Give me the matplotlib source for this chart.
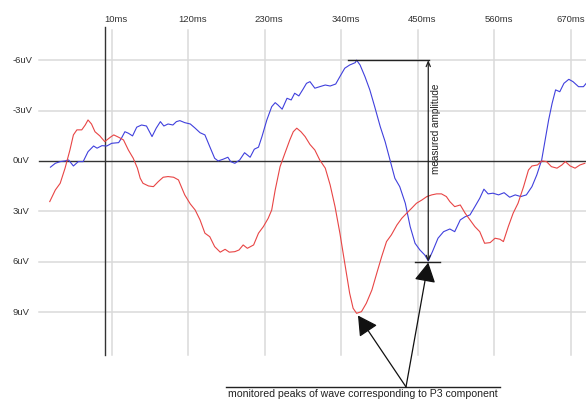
import matplotlib
matplotlib.use("Agg")
import matplotlib.pyplot as plt
from matplotlib.patches import FancyArrowPatch

plt.rcParams['font.family'] = ['Liberation Sans', 'DejaVu Sans']

# ---- data (time in ms, amplitude in uV; negative up) ----
x_ticks = [10, 120, 230, 340, 450, 560, 670]
x_tick_labels = ["10ms", "120ms", "230ms", "340ms", "450ms", "560ms", "670ms"]
y_ticks = [-6, -3, 0, 3, 6, 9]
y_tick_labels = ["-6uV", "-3uV", "0uV", "3uV", "6uV", "9uV"]

blue_t = [-78, -71, -64, -57, -52, -45, -38, -31, -24, -16, -11, -4, 3, 10, 20, 24, 29, 34, 40,
          46, 53, 60, 68, 74, 80, 85, 91, 98, 103, 108, 115, 123, 130, 137, 144, 151, 158, 163,
          170, 177, 181, 187, 194, 201, 209, 215, 221, 226, 233, 240, 245, 249, 255, 262, 268,
          273, 279, 285, 290, 295, 302, 309, 317, 324, 332, 338, 345, 352, 360, 362, 367, 374,
          381, 388, 396, 403, 410, 417, 424, 432, 439, 446, 453, 460, 465, 471, 479, 487, 496,
          503, 511, 518, 525, 532, 539, 545, 551, 558, 566, 574, 582, 590, 598, 606, 614, 621,
          628, 633, 638, 643, 648, 654, 660, 667, 673, 681, 688, 692]
blue_v = [0.37, 0.14, 0.04, 0.0, -0.06, 0.30, 0.04, 0.04, -0.55, -0.89, -0.76, -0.91, -0.89,
          -1.05, -1.09, -1.35, -1.74, -1.65, -1.49, -2.01, -2.14, -2.08, -1.45, -1.95, -2.34,
          -2.08, -2.20, -2.14, -2.34, -2.40, -2.28, -2.20, -1.95, -1.68, -1.55, -0.85, -0.16,
          0.0, -0.10, -0.22, 0.04, 0.14, -0.06, -0.49, -0.22, -0.70, -0.82, -1.45, -2.44, -3.23,
          -3.47, -3.33, -3.08, -3.73, -3.63, -4.03, -3.87, -4.27, -4.62, -4.72, -4.33, -4.42,
          -4.52, -4.46, -4.58, -5.02, -5.52, -5.71, -5.85, -6.0, -5.71, -5.02, -4.23, -3.23,
          -2.04, -1.15, -0.06, 1.03, 1.53, 2.52, 3.91, 4.90, 5.30, 5.60, 5.95, 5.40, 4.60, 4.21,
          4.05, 4.21, 3.51, 3.32, 3.21, 2.72, 2.22, 1.68, 1.96, 1.92, 2.02, 1.89, 2.16, 2.02,
          2.12, 2.02, 1.53, 0.83, -0.06, -1.25, -2.44, -3.43, -4.23, -4.12, -4.62, -4.86, -4.72,
          -4.42, -4.42, -4.62]

red_t = [-79, -71, -64, -57, -50, -45, -40, -33, -28, -24, -19, -14, -7, 0, 8, 13, 20, 27, 34,
         41, 47, 51, 55, 63, 70, 77, 84, 91, 99, 106, 108, 115, 123, 130, 137, 144, 151, 158,
         166, 173, 179, 187, 193, 199, 205, 214, 221, 228, 235, 240, 245, 252, 259, 266, 271,
         276, 282, 288, 295, 302, 309, 317, 324, 331, 338, 345, 352, 357, 362, 369, 376, 384,
         391, 398, 405, 412, 420, 427, 434, 441, 448, 456, 463, 470, 477, 484, 491, 496, 503,
         511, 518, 525, 532, 539, 546, 554, 561, 568, 573, 580, 587, 594, 602, 609, 614, 622,
         628, 635, 642, 650, 657, 662, 669, 676, 683, 690]
red_v = [2.42, 1.73, 1.33, 0.43, -0.65, -1.55, -1.85, -1.85, -2.14, -2.44, -2.20, -1.74, -1.49,
         -1.15, -1.41, -1.55, -1.41, -1.25, -0.65, -0.16, 0.43, 1.03, 1.33, 1.49, 1.53, 1.23,
         0.97, 0.93, 0.97, 1.13, 1.33, 2.02, 2.56, 2.92, 3.51, 4.30, 4.51, 5.10, 5.43, 5.26,
         5.43, 5.40, 5.30, 5.00, 5.20, 5.00, 4.30, 3.91, 3.41, 2.92, 1.73, 0.34, -0.46, -1.25,
         -1.74, -1.95, -1.74, -1.45, -0.98, -0.65, -0.06, 0.43, 1.43, 2.72, 4.30, 6.09, 7.87,
         8.77, 9.07, 8.97, 8.47, 7.68, 6.68, 5.70, 4.80, 4.40, 3.81, 3.41, 3.11, 2.82, 2.52,
         2.32, 2.12, 2.02, 1.96, 1.96, 2.12, 2.42, 2.72, 2.62, 3.11, 3.51, 3.91, 4.21, 4.90,
         4.86, 4.60, 4.66, 4.80, 3.91, 3.11, 2.52, 1.53, 0.54, 0.30, 0.24, 0.0, 0.04, 0.34,
         0.43, 0.24, 0.04, 0.30, 0.43, 0.24, 0.14]

amp_peak_t = 465        # blue positive peak time
amp_top_v = -6.0
amp_bottom_v = 6.0
red_peak = (364, 9.2)
blue_peak = (465, 6.05)
label_origin = (433, 13.45)
measured_label = "measured amplitude"
caption = "monitored peaks of wave corresponding to P3 component"

# ---- figure ----
fig = plt.figure(figsize=(5.86, 3.99), dpi=100)
ax = fig.add_axes([0, 0, 1, 1])
ax.set_xlim(-150.5, 691.7)
ax.set_ylim(14.17, -9.58)
ax.axis('off')

grid_c = '#dadada'
v_top, v_bot = -7.8, 11.55
t_left, t_right = -94.4, 700
for t in x_ticks:
    ax.plot([t, t], [v_top, v_bot], color=grid_c, lw=1.1, zorder=1)
for v in y_ticks:
    if v != 0:
        ax.plot([t_left, t_right], [v, v], color=grid_c, lw=1.1, zorder=1)
ax.plot([t_left, t_right], [0, 0], color='#333333', lw=1.0, zorder=2)
ax.plot([0, 0], [-8.0, v_bot], color='#333333', lw=1.0, zorder=2)

for t, lab in zip(x_ticks, x_tick_labels):
    if t < 600:
        ax.text(t + 6, -8.4, lab, ha='center', va='center', fontsize=6.8, color='#333333')
    else:
        ax.text(690.5, -8.4, lab, ha='right', va='center', fontsize=6.8, color='#333333')
for v, lab in zip(y_ticks, y_tick_labels):
    ax.text(-132, v, lab, ha='left', va='center', fontsize=6.8, color='#333333')

ax.plot(blue_t, blue_v, color='#4040dd', lw=0.8, zorder=3)
ax.plot(red_t, red_v, color='#e84545', lw=0.8, zorder=3)

# measured amplitude annotation
ax.plot([350, 466], [amp_top_v, amp_top_v], color='#222222', lw=1.0, zorder=4)
ax.plot([446, 482], [amp_bottom_v, amp_bottom_v], color='#222222', lw=1.0, zorder=4)
ax.add_patch(FancyArrowPatch((amp_peak_t, amp_top_v), (amp_peak_t, amp_bottom_v),
                             arrowstyle='<->,head_length=0.35,head_width=0.15',
                             mutation_scale=10, color='#222222', lw=0.9,
                             shrinkA=0, shrinkB=0, zorder=4))
ax.text(476, -1.9, measured_label, rotation=90, ha='center', va='center',
        fontsize=7.2, color='#222222')

# big arrows to the peaks
for tip in (red_peak, blue_peak):
    ax.add_patch(FancyArrowPatch(label_origin, tip,
                                 arrowstyle='-|>,head_length=0.6,head_width=0.33',
                                 mutation_scale=20, color='#111111', lw=0.9,
                                 shrinkA=0, shrinkB=0, zorder=5))

ax.plot([174, 568], [13.45, 13.45], color='#222222', lw=1.0, zorder=4)
ax.text(177, 13.85, caption, ha='left', va='center', fontsize=7.6, color='#222222')

fig.savefig('out.png', dpi=100)
